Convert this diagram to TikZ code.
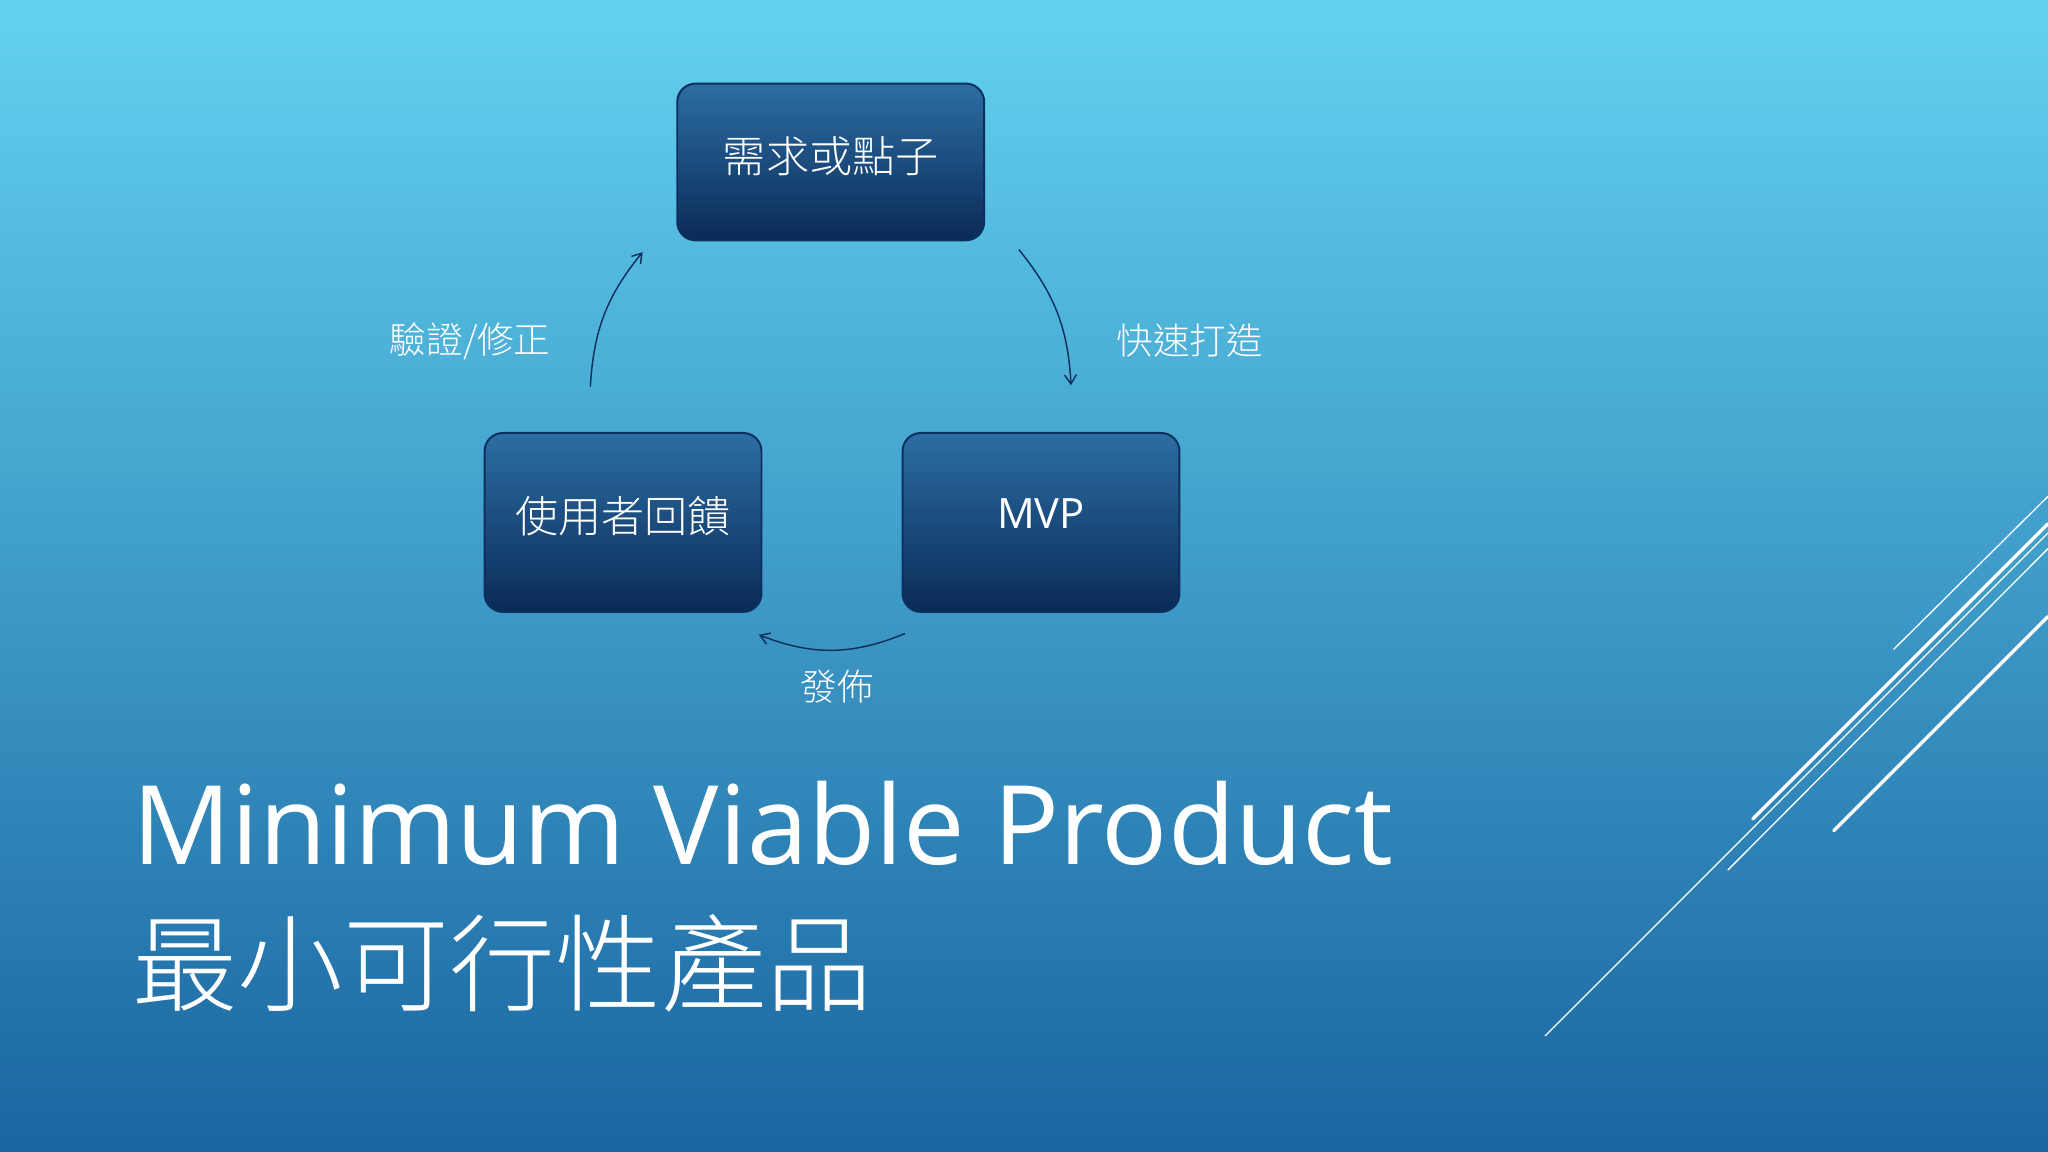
\documentclass[tikz,border=0pt]{standalone}
\usepackage{fontspec}
\setmainfont{Open Sans}
\newfontfamily\cjk{Noto Sans CJK TC}
\newfontfamily\cjkl{Noto Sans CJK TC Light}
\usetikzlibrary{arrows.meta}
\definecolor{bgtop}{HTML}{63D2F0}
\definecolor{bgbot}{HTML}{1A65A0}
\definecolor{boxtop}{HTML}{2C6EA3}
\definecolor{boxbot}{HTML}{0A2A57}
\definecolor{navy}{HTML}{0E2E5E}
\begin{document}
\begin{tikzpicture}[x=1pt,y=-1pt,
  stepbox/.style={draw=navy,line width=1.5pt,rounded corners=14pt,top color=boxtop,bottom color=boxbot,text=white,font=\cjkl\fontsize{33}{36}\selectfont,inner sep=0pt},
  conn/.style={navy,line width=1.1pt,-{Straight Barb[length=7pt,width=9pt]}},
  lbl/.style={text=white,font=\cjkl\fontsize{28}{30}\selectfont},
  deco/.style={white,line cap=round}]
\useasboundingbox (0,0) rectangle (1568,882);
\shade[top color=bgtop,bottom color=bgbot] (0,0) rectangle (1568,882);
\node[stepbox,minimum width=235pt,minimum height=120pt,text depth=12pt] (need) at (636,124) {需求或點子};
\node[stepbox,minimum width=212pt,minimum height=137pt,text depth=12pt] (fb) at (477,400) {使用者回饋};
\node[stepbox,minimum width=212pt,minimum height=137pt,font=\fontsize{32}{36}\selectfont,text depth=14pt] (mvp) at (797,400) {MVP};
\coordinate (a1) at (452,296); \coordinate (a2) at (492,193);
\coordinate (b1) at (780,191); \coordinate (b2) at (820,295);
\coordinate (c1) at (693,485); \coordinate (c2) at (581,486);
\draw[conn] (a1) to[bend left=18] (a2);
\draw[conn] (b1) to[bend left=18] (b2);
\draw[conn] (c1) to[bend left=22] (c2);
\node[lbl] (l1) at (360,261) {驗證/修正};
\node[lbl] (l2) at (911,261) {快速打造};
\node[lbl] (l3) at (641,526) {發佈};
\node[anchor=base west,text=white,inner sep=0pt,font=\fontsize{84}{100}\selectfont] (t1) at (101,662) {Minimum Viable Product};
\node[anchor=base west,text=white,inner sep=0pt,font=\cjkl\fontsize{81}{90}\selectfont] (t2) at (101,768) {最小可行性產品};
\draw[deco,line width=1pt] (1450,497) -- (1568,380);
\draw[deco,line width=2.5pt] (1342,627) -- (1568,401);
\draw[deco,line width=1pt] (1323,666) -- (1568,420);
\draw[deco,line width=2.5pt] (1404,636) -- (1568,472);
\draw[deco,line width=1pt] (1183,793) -- (1568,408);
\end{tikzpicture}
\end{document}
